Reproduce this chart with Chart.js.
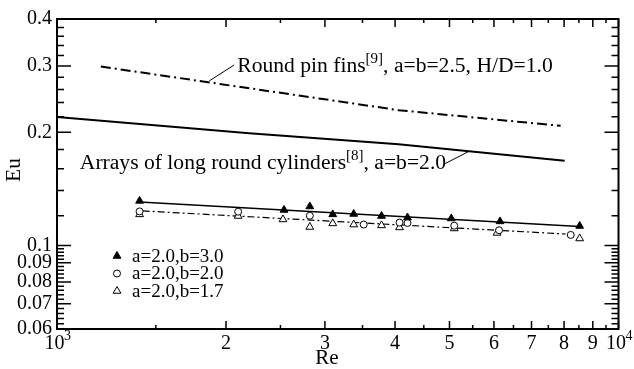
<!DOCTYPE html>
<html>
<head>
<meta charset="utf-8">
<script src="https://cdn.jsdelivr.net/npm/chart.js@4.4.0/dist/chart.umd.min.js"></script>
<style>
  html, body { margin: 0; padding: 0; background: #fff; }
  #wrap { width: 634px; height: 369px; }
</style>
</head>
<body>
<div id="wrap"><canvas id="chart"></canvas></div>
<script>
// Measured points, Re vs Eu
const reB30 = [1403, 2537, 2820, 3098, 3376, 3784, 4209, 5037, 6152, 8528];
const euB30 = [0.1314, 0.1243, 0.1270, 0.1210, 0.1213, 0.1198, 0.1187, 0.1180, 0.1159, 0.1127];
const reB20 = [1403, 2102, 2820, 3517, 4074, 4209, 5099, 6127, 8221];
const euB20 = [0.1232, 0.1230, 0.1200, 0.1137, 0.1151, 0.1148, 0.1129, 0.1098, 0.1067];
const reB17 = [1403, 2102, 2526, 2820, 3098, 3376, 3784, 4074, 5099, 6077, 8528];
const euB17 = [0.1210, 0.1198, 0.1173, 0.1120, 0.1145, 0.1137, 0.1131, 0.1117, 0.1110, 0.1080, 0.1044];

// Fit lines through the measured points
const fitB30Re = [1403, 8528];
const fitB30Eu = [0.1306, 0.1123];
const fitB20Re = [1421, 8054];
const fitB20Eu = [0.1236, 0.1073];

// Literature correlations
const pinRe = [1197, 2926, 4057, 7888];
const pinEu = [0.299, 0.246, 0.229, 0.208];
const cylRe = [1000, 2199, 4057, 8020];
const cylEu = [0.2195, 0.1988, 0.1858, 0.1681];

// Leader lines from the labels to the curves
const leadPinRe = [1867, 2068];
const leadPinEu = [0.2738, 0.3019];
const leadCylRe = [4915, 5410];
const leadCylEu = [0.1652, 0.1778];

// Labels
const pinLabel = ['Round pin fins', '[9]', ', a=b=2.5, H/D=1.0'];
const cylLabel = ['Arrays of long round cylinders', '[8]', ', a=b=2.0'];
const legendLabels = ['a=2.0,b=3.0', 'a=2.0,b=2.0', 'a=2.0,b=1.7'];

// Axis ticks
const xMajor = [1000, 2000, 3000, 4000, 5000, 6000, 7000, 8000, 9000, 10000];
const xLabels = ['10 ', '2', '3', '4', '5', '6', '7', '8', '9', '10 '];
const xExponents = { 1000: '3', 10000: '4' };
const xMinor = [1500, 2500, 3500, 4500, 5500, 6500, 7500, 8500, 9500];
const yMajor = [0.06, 0.07, 0.08, 0.09, 0.1, 0.2, 0.3, 0.4];
const yLabels = ['0.06', '0.07', '0.08', '0.09', '0.1', '0.2', '0.3', '0.4'];
const yMinor = [0.062, 0.064, 0.066, 0.068, 0.072, 0.074, 0.076, 0.078,
                0.082, 0.084, 0.086, 0.088, 0.092, 0.094, 0.096, 0.098,
                0.12, 0.14, 0.16, 0.18, 0.22, 0.24, 0.26, 0.28,
                0.32, 0.34, 0.36, 0.38];

const FONT = '"Liberation Serif", "Times New Roman", serif';

function pts(xs, ys) {
    return xs.map((x, i) => ({ x: x, y: ys[i] }));
}

function lineSet(xs, ys, width, dash) {
    return {
        data: pts(xs, ys),
        showLine: true,
        borderColor: '#000',
        borderWidth: width,
        borderDash: dash || [],
        pointRadius: 0,
        fill: false,
        order: 2
    };
}

function markerSet(xs, ys, style, fill, radius) {
    return {
        data: pts(xs, ys),
        showLine: false,
        pointStyle: style,
        pointRadius: radius,
        pointBackgroundColor: fill,
        pointBorderColor: '#000',
        pointBorderWidth: 1,
        order: 1
    };
}

// text with a superscript in the middle
function drawSupText(ctx, x, y, parts, size) {
    ctx.textBaseline = 'middle';
    ctx.textAlign = 'left';
    ctx.font = size + 'px ' + FONT;
    ctx.fillText(parts[0], x, y);
    x += ctx.measureText(parts[0]).width;
    ctx.font = Math.round(size * 0.7) + 'px ' + FONT;
    ctx.fillText(parts[1], x, y - size * 0.32);
    x += ctx.measureText(parts[1]).width;
    ctx.font = size + 'px ' + FONT;
    ctx.fillText(parts[2], x, y);
}

function drawMarker(ctx, style, fill, x, y, r) {
    ctx.beginPath();
    if (style === 'circle') {
        ctx.arc(x, y, r, 0, Math.PI * 2);
    } else {
        ctx.moveTo(x, y - r);
        ctx.lineTo(x + r * 0.866, y + r * 0.5);
        ctx.lineTo(x - r * 0.866, y + r * 0.5);
        ctx.closePath();
    }
    ctx.fillStyle = fill;
    ctx.fill();
    ctx.lineWidth = 1;
    ctx.strokeStyle = '#000';
    ctx.stroke();
}

const framePlugin = {
    id: 'frame',
    beforeDatasetsDraw(chart) {
        const ctx = chart.ctx;
        const a = chart.chartArea;
        const xs = chart.scales.x;
        const ys = chart.scales.y;
        ctx.save();
        ctx.strokeStyle = '#000';
        ctx.lineWidth = 1.5;
        ctx.beginPath();
        const xTick = (v, len) => {
            const p = xs.getPixelForValue(v);
            ctx.moveTo(p, a.bottom); ctx.lineTo(p, a.bottom - len);
            ctx.moveTo(p, a.top); ctx.lineTo(p, a.top + len);
        };
        const yTick = (v, len) => {
            const p = ys.getPixelForValue(v);
            ctx.moveTo(a.left, p); ctx.lineTo(a.left + len, p);
            ctx.moveTo(a.right, p); ctx.lineTo(a.right - len, p);
        };
        xMajor.forEach(v => xTick(v, 8));
        xMinor.forEach(v => xTick(v, 4));
        yMajor.forEach(v => yTick(v, 14));
        yMinor.forEach(v => yTick(v, 7));
        ctx.stroke();
        ctx.lineWidth = 2;
        ctx.strokeRect(a.left, a.top, a.right - a.left, a.bottom - a.top);
        ctx.restore();
    },
    afterDraw(chart) {
        const ctx = chart.ctx;
        const xs = chart.scales.x;
        const ys = chart.scales.y;
        ctx.save();
        ctx.fillStyle = '#000';
        drawSupText(ctx, xs.getPixelForValue(2094), ys.getPixelForValue(0.300), pinLabel, 21.6);
        drawSupText(ctx, xs.getPixelForValue(1098), ys.getPixelForValue(0.1657), cylLabel, 21.6);

        // exponents on the decade labels (10^3, 10^4)
        ctx.font = '14px ' + FONT;
        ctx.textAlign = 'left';
        ctx.textBaseline = 'middle';
        Object.keys(xExponents).forEach(v => {
            ctx.fillText(xExponents[v], xs.getPixelForValue(Number(v)) + 7, 336);
        });

        // legend
        const styles = [['triangle', '#000'], ['circle', '#fff'], ['triangle', '#fff']];
        const rows = [256, 273.5, 291];
        legendLabels.forEach((t, i) => {
            drawMarker(ctx, styles[i][0], styles[i][1], 117, rows[i], styles[i][0] === 'circle' ? 3.5 : 4.5);
            ctx.fillStyle = '#000';
            ctx.font = '19px ' + FONT;
            ctx.textAlign = 'left';
            ctx.textBaseline = 'middle';
            ctx.fillText(t, 132, rows[i] + 1);
        });

        // axis titles
        ctx.font = '21px ' + FONT;
        ctx.textAlign = 'center';
        ctx.textBaseline = 'middle';
        ctx.fillText('Re', 327, 358);
        ctx.translate(14, 170);
        ctx.rotate(-Math.PI / 2);
        ctx.fillText('Eu', 0, 0);
        ctx.restore();
    }
};

const ctx = document.getElementById('chart').getContext('2d');
new Chart(ctx, {
    type: 'scatter',
    data: {
        datasets: [
            lineSet(pinRe, pinEu, 2, [10, 4, 2, 4]),
            lineSet(cylRe, cylEu, 2),
            lineSet(leadPinRe, leadPinEu, 1),
            lineSet(leadCylRe, leadCylEu, 1),
            lineSet(fitB30Re, fitB30Eu, 1.5),
            lineSet(fitB20Re, fitB20Eu, 1.2, [7, 3, 2, 3]),
            markerSet(reB30, euB30, 'triangle', '#000', 4.5),
            markerSet(reB20, euB20, 'circle', '#fff', 3.5),
            markerSet(reB17, euB17, 'triangle', '#fff', 4.5)
        ]
    },
    options: {
        responsive: true,
        maintainAspectRatio: false,
        animation: false,
        layout: { padding: { top: 19, right: 13, left: 0, bottom: 0 } },
        plugins: {
            legend: { display: false },
            tooltip: { enabled: false }
        },
        scales: {
            x: {
                type: 'logarithmic',
                min: 1000,
                max: 10000,
                afterBuildTicks: s => { s.ticks = xMajor.map(v => ({ value: v })); },
                afterFit: s => { s.height = 40; },
                grid: { display: false, drawTicks: false },
                border: { display: false },
                ticks: {
                    callback: (v, i) => xLabels[i],
                    font: { family: FONT, size: 20 },
                    color: '#000',
                    maxRotation: 0,
                    autoSkip: false,
                    padding: 3
                }
            },
            y: {
                type: 'logarithmic',
                min: 0.06,
                max: 0.4,
                afterBuildTicks: s => { s.ticks = yMajor.map(v => ({ value: v })); },
                afterFit: s => { s.width = 57; },
                grid: { display: false, drawTicks: false },
                border: { display: false },
                ticks: {
                    callback: (v, i) => yLabels[i],
                    font: { family: FONT, size: 20 },
                    color: '#000',
                    autoSkip: false,
                    padding: 5
                }
            }
        }
    },
    plugins: [framePlugin]
});
</script>
</body>
</html>
